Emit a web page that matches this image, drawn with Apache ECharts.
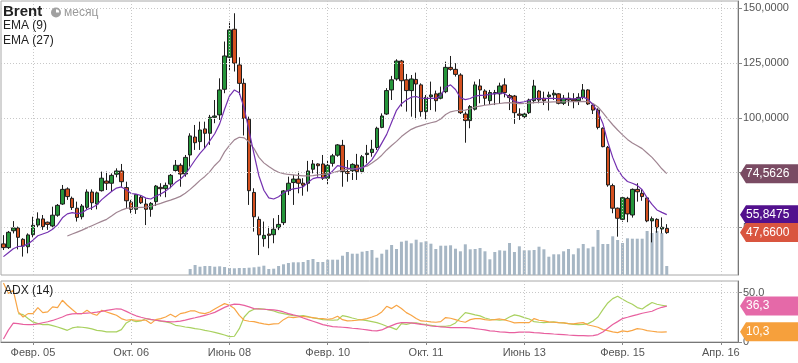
<!DOCTYPE html>
<html><head><meta charset="utf-8">
<script src="https://cdn.jsdelivr.net/npm/echarts@6/dist/echarts.min.js"></script>
<style>html,body{margin:0;padding:0;background:#fff}#c{width:798px;height:363px}</style>
</head><body><div id="c"></div>
<script>
// ---- data (monthly Brent, index 0 = Aug 2004) ----
const opens  = [42.5,40.8,48.5,49.8,44.6,41.2,46.7,51.1,53.9,52.4, 50.7,55.6,60.7,67.6,63.3,58.8,54.9,59.2,66.2,60.7, 66.8,71.2,70.2,74.3,75.8,68.2,61.6,58.3,63.8,60.7, 58.3,61.8,68.3,67.7,69.8,76.0,78.4,74.4,83.1,91.3, 89.2,95.0,93.0,100.3,101.4,113.1,127.7,140.5,124.2,115.8, 99.4,66.0,53.7,44.9,47.0,46.7,49.9,52.2,66.8,70.5, 72.1,70.2,70.2,76.6,79.0,79.0,72.5,79.3,83.0,87.5, 75.5,75.9,78.5,75.5,83.3,84.2,86.5,95.7,101.8,112.8, 117.8,126.0,117.4,112.5,117.6,115.1,102.9,109.7,111.0,109.0, 112.0,123.1,122.2,119.6,101.8,98.8,104.0,114.6,112.3,107.9, 111.0,111.0,115.1,110.2,110.0,101.8,100.6,102.4,107.9,112.3, 109.0,109.7,110.5,111.0,106.7,109.0,108.5,107.9,109.4,112.8, 105.9,103.6,95.3,86.6,69.1,58.8,53.7,63.3,55.7,67.4, 65.6,63.5,53.0,53.7,49.3,49.6];
const highs  = [46.5,48.4,52.9,50.4,45.1,47.3,54.9,56.9,55.7,52.7, 59.5,60.7,69.4,68.3,64.1,61.8,60.7,67.4,67.4,66.4, 75.5,75.5,74.7,77.0,79.0,70.9,62.6,65.3,64.8,63.3, 61.6,69.4,70.2,70.5,74.4,80.8,79.3,83.1,93.0,96.8, 98.3,98.3,101.4,108.2,118.1,134.9,144.0,147.8,127.7,118.0, 100.6,67.9,55.0,52.7,50.4,54.2,55.7,67.1,73.2,74.0, 75.5,72.5,80.4,80.8,79.3,83.1,80.8,83.6,88.1,90.0, 80.8,79.3,83.6,83.1,87.7,90.0,96.0,102.1,113.6,119.2, 126.8,126.5,120.1,119.6,120.7,115.8,110.5,116.6,112.5,114.3, 125.7,128.3,125.0,120.4,102.9,105.9,116.6,117.7,113.1,112.8, 112.8,116.1,118.1,111.0,110.5,104.4,102.4,108.8,117.4,112.8, 112.0,112.0,112.8,111.3,110.5,111.6,111.3,111.3,115.5,113.1, 106.4,104.4,95.7,87.2,70.0,59.1,64.0,64.0,67.8,70.2, 67.4,63.8,55.0,54.2,54.6,51.5];
const lows   = [39.7,40.2,47.3,40.0,36.7,38.2,45.5,49.9,48.9,48.9, 49.6,54.9,60.3,62.6,58.0,52.7,53.7,58.3,58.0,58.3, 66.4,67.1,66.4,72.9,68.3,58.8,56.5,56.2,60.7,51.1, 54.9,59.8,64.1,63.8,67.9,75.5,68.6,73.2,77.8,85.4, 85.4,86.1,87.7,97.6,99.1,111.3,121.6,121.2,110.5,92.0, 60.3,48.1,37.4,41.2,40.5,42.8,48.8,51.1,64.8,60.3, 65.6,64.5,66.4,74.7,73.2,71.7,69.4,77.8,82.3,68.6, 70.9,71.7,71.7,74.7,79.3,82.3,85.4,95.3,101.4,108.2, 117.0,105.2,102.9,100.6,99.4,100.6,99.4,103.6,102.9,108.5, 111.3,121.6,118.9,101.8,88.7,95.3,103.4,106.7,105.9,105.9, 105.9,106.4,109.4,103.6,97.3,99.1,99.9,101.8,106.7,106.7, 105.9,103.4,108.2,106.2,105.9,105.5,104.4,105.9,108.5,105.9, 101.8,94.8,86.6,68.6,56.5,45.8,52.6,52.4,54.5,61.8, 62.2,52.4,43.2,47.6,47.3,47.1];
const closes = [40.8,47.8,49.8,45.5,41.5,46.6,51.0,53.9,50.4,51.4, 55.6,60.1,67.4,64.1,59.1,54.6,59.8,66.2,61.3,65.8, 72.5,70.2,73.8,75.8,70.9,62.2,58.3,65.0,61.3,58.3, 61.0,68.9,67.7,69.2,73.8,78.4,74.4,82.0,91.8,88.7, 94.5,93.0,100.3,100.9,112.8,128.3,140.2,125.0,115.8,99.8, 66.8,54.9,46.6,46.4,46.4,49.2,51.4,66.7,70.2,72.1, 70.2,69.3,75.8,79.0,78.2,72.5,78.4,82.7,87.7,75.5, 74.7,78.8,75.5,82.3,83.9,85.7,95.3,100.9,112.5,117.4, 126.0,117.0,112.5,117.8,115.5,102.9,109.4,110.5,107.9,111.3, 123.1,122.2,119.9,102.4,98.8,105.2,115.1,112.8,109.0,111.6, 111.6,114.6,111.6,109.3,102.4,101.2,101.8,108.2,114.6,108.2, 107.9,110.5,111.3,106.7,109.0,108.2,107.8,109.4,112.8,106.4, 103.6,95.7,86.9,69.4,58.8,54.2,63.6,56.2,67.4,66.3, 64.1,53.0,54.0,49.9,50.1,47.66];
const ema9   = [36.7,38.5,40.3,41.3,41.5,42.5,44.2,46.2,47.0,47.8, 49.2,51.2,54.4,56.2,56.8,56.3,56.7,58.2,59.0,60.3, 62.7,64.6,66.4,68.0,68.5,67.2,65.5,65.2,64.6,63.4, 63.0,64.3,65.3,66.6,68.3,70.5,72.0,74.2,77.5,80.8, 83.8,86.3,89.5,92.8,97.3,104.0,110.0,112.8,111.5,104.5, 94.0,83.5,73.5,67.0,63.5,63.0,64.0,65.8,67.0,67.6, 68.0,68.6,70.6,72.3,72.9,72.6,73.5,75.8,78.2,77.8, 77.1,76.8,76.6,77.2,78.7,81.0,84.5,88.5,92.5,98.0, 103.5,106.5,108.2,109.5,109.8,109.0,108.9,109.0,108.9,110.2, 114.0,115.1,113.0,109.2,108.4,108.9,110.0,110.3,110.4,110.8, 111.1,111.4,111.2,109.4,107.5,107.0,107.4,108.0,108.8,108.9, 108.8,108.9,109.0,108.7,108.8,108.8,108.7,109.0,109.5,108.5, 106.0,102.8,97.5,89.0,82.0,76.5,73.2,71.0,70.2,69.2, 67.2,63.5,60.5,58.0,56.9,55.8475];
const ema27  = [null,null,null,null,null,null,null,null,null,null, null,null,null,46.1,47.0,47.9,48.8,49.8,50.8,51.8, 52.8,53.7,55.2,56.8,57.9,58.7,59.0,59.1,59.2,59.3, 59.7,60.3,61.0,61.8,62.5,63.3,64.2,65.6,67.4,69.4, 71.5,73.3,75.5,78.3,80.5,84.5,87.5,90.0,91.2,90.9, 89.0,86.0,82.0,79.5,77.8,76.3,75.2,74.6,74.2,74.0, 73.8,73.6,73.6,73.7,74.0,74.2,74.5,75.0,75.6,76.2, 76.5,76.7,77.0,77.5,78.0,79.4,81.0,83.0,85.4,87.4, 89.3,91.5,93.2,94.8,95.8,96.5,97.2,97.8,98.3,99.5, 101.6,102.8,103.3,103.5,103.6,104.2,105.0,105.4,105.8,106.1, 106.4,106.6,106.9,107.0,106.8,106.5,106.6,106.8,107.0,107.1, 107.2,107.2,107.3,107.3,107.4,107.4,107.5,107.5,107.6,107.4, 106.6,105.0,102.4,99.6,96.9,94.5,92.3,90.2,88.6,87.3, 86.0,84.0,82.0,79.5,76.8,74.5626];
const volStart = 38;
const volumes = [6,10,8.3,9,9,8.3,8.7,8,7,6.7, 7,7,7.3,7.7,8.3,9.3,6,6.3,9,10.7, 12,12.7,12.7,13,15,16,13,13,15.3,15.3, 15.3,19.3,23,21.3,21.3,23.3,24,25,17.3,21.3, 25.3,30,26,33.3,34.3,31.7,35.3,32.7,33.7,31.3, 26,29.3,29.3,29.7,26.3,23.7,30.7,25.7,26,27, 23.7,15.7,23,24.7,24.3,32,23,28.7,24.7,24.7, 25,28.3,25.7,18.3,20.7,20.7,23.7,26,20.7,26.7, 31,26.7,28.3,45,31,31,38.7,35,32,36.7, 36.3,36.3,36.3,44,42,44,42,9];
const adx    = [3,12,19,18.5,17.8,17.5,17.6,18.3,19.5,20.5, 21.8,23.5,25.3,27.5,28.5,28.7,28.8,29.2,29.6,30.2, 31.0,31.9,32.8,33.6,33.2,31.0,28.5,26.5,25.0,23.8, 22.8,22.0,21.4,20.8,20.4,20.6,21.2,22.2,23.4,24.5, 25.7,27.0,28.3,30.0,32.5,35.0,37.0,38.3,38.0,37.0, 35.5,33.8,33.4,33.1,32.8,32.4,31.7,30.4,28.7,27.4, 26.3,24.3,22.6,21.0,19.3,17.6,16.6,15.6,15.2,14.9, 14.5,13.9,13.5,12.9,12.2,11.5,11.2,12.2,14.5,16.6, 18.6,19.6,19.6,19.3,18.6,17.9,17.2,16.2,15.9,15.2, 14.9,14.5,14.5,14.5,14.5,14.2,13.5,12.9,12.2,11.2, 10.9,10.2,9.9,9.5,9.5,9.9,9.9,9.9,9.5,9.2, 8.8,8.5,8.1,7.8,7.5,7.1,6.8,6.5,6.5,6.1, 6.5,7.5,10.2,13.9,17.6,20.6,23.7,25.0,26.4,27.7, 29.1,30.1,31.1,33.4,35.1,36.3];
const plusDI = [59.7,49,52.3,30.4,25.3,28.7,28.7,34.8,29.7,30.4, 35.5,34.8,42.2,37.2,32.8,28.7,28.7,32.1,28.7,27.0, 32.1,30.4,28.7,27.0,23.7,22.0,22.6,22.0,22.0,22.0, 18.6,22.6,23.7,25.3,28.0,25.3,28.7,29.7,31.4,31.4, 29.4,28.7,30.4,33.4,36.1,38.8,37.2,33.8,27.0,22.0, 21.0,20.6,19.3,18.3,17.6,18.3,18.6,22.6,25.3,24.7, 25.3,26.0,25.3,24.7,24.0,23.7,23.0,23.7,26.0,22.6, 21.3,21.6,22.0,22.6,23.7,25.3,27.0,30.4,36.1,33.8, 37.2,33.8,29.7,27.0,23.7,21.3,21.0,20.3,20.0,20.6, 24.7,24.0,22.6,21.0,20.0,22.6,23.7,23.7,22.6,22.0, 22.6,23.3,22.3,21.0,19.3,19.6,19.6,19.6,23.7,22.0, 21.3,20.3,20.0,19.6,19.3,18.6,18.3,19.0,19.6,17.2, 16.2,14.9,12.5,11.5,10.2,9.5,11.2,10.5,11.8,13.5, 12.9,11.5,10.9,10.2,9.9,10.3];
const minusDI = [null,null,null,28.7,27.7,23.7,20.3,18.6,17.6,17.9, 16.6,15.2,13.5,11.8,14.2,15.2,14.9,14.2,13.2,11.8, 11.2,10.2,10.2,10.2,12.5,19.3,22.0,20.6,21.3,23.7, 22.6,22.0,21.0,20.3,19.3,16.9,16.2,15.2,14.5,13.5, 12.9,11.8,10.9,9.8,8.5,7.1,5.4,5.8,13.5,25.3, 30.7,33.1,33.8,33.4,32.4,31.4,29.7,28.7,27.7,26.7, 26.3,26.7,25.7,24.3,23.7,22.6,22.3,22.0,22.3,26.7, 25.7,24.3,23.0,22.3,21.6,20.6,19.6,17.9,15.9,14.5, 12.5,18.6,17.9,19.0,19.3,18.3,17.6,16.9,16.2,15.9, 15.9,16.6,19.3,24.7,29.7,28.7,27.4,26.4,24.3,23.0, 22.6,22.0,22.6,25.3,27.4,26.4,24.7,23.3,20.6,20.0, 19.6,20.0,20.3,19.6,19.3,18.6,17.9,17.6,17.9,18.6, 21.3,25.3,32.8,39.5,43.9,46.3,43.2,40.5,38.2,34.8, 33.4,36.8,39.9,38.2,37.2,36.2];
const priceTicks = [50, 75, 100, 125, 150];
const adxTicks = [0, 50];
const xTickIdx = [6, 26, 46, 66, 86, 106, 126, 146];
const xTickText = ['Февр. 05', 'Окт. 06', 'Июнь 08', 'Февр. 10', 'Окт. 11', 'Июнь 13', 'Февр. 15', 'Апр. 16'];
const nCats = 150;

// ---- build ----
const cats = []; for (let i = 0; i < nCats; i++) cats.push(String(i));
const candles = opens.map((o, i) => [o, closes[i], lows[i], highs[i]]);
const volData = new Array(volStart).fill(null).concat(volumes);
const fmtPrice = v => v.toFixed(4).replace('.', ',');
const FONT = 'Liberation Sans, Arial, sans-serif';
const gridLine = {color: '#c8c8c8', type: [1, 2], width: 1};
const vLines = xTickIdx.map(i => ({xAxis: String(i)}));

const chart = echarts.init(document.getElementById('c'), null, {renderer: 'canvas'});
const option = {
  animation: false,
  textStyle: {fontFamily: FONT},
  grid: [
    {left: 1, top: 1, width: 737, height: 274, show: true, borderColor: '#a8a8a8', borderWidth: 1},
    {left: 1, top: 281, width: 737, height: 61, show: true, borderColor: '#a8a8a8', borderWidth: 1}
  ],
  xAxis: [
    {type: 'category', gridIndex: 0, data: cats, boundaryGap: true, axisLine: {show: false}, axisTick: {show: false}, axisLabel: {show: false}, splitLine: {show: false}},
    {type: 'category', gridIndex: 1, data: cats, boundaryGap: true,
     axisLine: {show: true, lineStyle: {color: '#777'}},
     axisTick: {show: true, alignWithLabel: true, interval: (i) => xTickIdx.includes(i), length: 3, lineStyle: {color: '#888'}},
     axisLabel: {interval: (i) => xTickIdx.includes(i), formatter: (v) => { const k = xTickIdx.indexOf(Number(v)); return k >= 0 ? xTickText[k] : ''; }, color: '#555', fontSize: 11, margin: 5, fontFamily: FONT},
     splitLine: {show: false}}
  ],
  yAxis: [
    {type: 'value', gridIndex: 0, position: 'right', min: 28.3, max: 153.4,
     axisLine: {show: true, lineStyle: {color: '#777'}},
     axisTick: {show: true, customValues: priceTicks, length: 4, lineStyle: {color: '#888'}},
     axisLabel: {customValues: priceTicks, formatter: fmtPrice, color: '#555', fontSize: 11, margin: 5, fontFamily: FONT},
     splitLine: {show: false}},
    {type: 'value', gridIndex: 0, min: 0, max: 274, show: false, splitLine: {show: false}},
    {type: 'value', gridIndex: 1, position: 'right', min: 0, max: 61.7,
     axisLine: {show: true, lineStyle: {color: '#777'}},
     axisTick: {show: true, customValues: adxTicks, length: 4, lineStyle: {color: '#888'}},
     axisLabel: {customValues: adxTicks, formatter: v => v === 50 ? '50.0' : '0', color: '#555', fontSize: 11, margin: 5, fontFamily: FONT},
     splitLine: {show: false}}
  ],
  series: [
    {type: 'line', xAxisIndex: 0, yAxisIndex: 0, data: [], z: 1, silent: true,
     markLine: {silent: true, symbol: ['none', 'none'], label: {show: false}, lineStyle: gridLine, animation: false,
       data: vLines.concat(priceTicks.map(v => ({yAxis: v})))}},
    {type: 'bar', xAxisIndex: 0, yAxisIndex: 1, data: volData, barWidth: 3, itemStyle: {color: '#a6b6c4'}, z: 2, silent: true},
    {type: 'candlestick', xAxisIndex: 0, yAxisIndex: 0, data: candles, barWidth: 4, z: 3,
     itemStyle: {color: '#25953a', color0: '#d4501f', borderColor: '#1e1e1e', borderColor0: '#1e1e1e', borderWidth: 1}},
    {type: 'line', xAxisIndex: 0, yAxisIndex: 0, data: ema27, symbol: 'none', z: 4, lineStyle: {color: '#a08592', width: 1.2}},
    {type: 'line', xAxisIndex: 0, yAxisIndex: 0, data: ema9, symbol: 'none', z: 4, lineStyle: {color: '#7431b0', width: 1.2}},
    {type: 'line', xAxisIndex: 1, yAxisIndex: 2, data: [], z: 1, silent: true,
     markLine: {silent: true, symbol: ['none', 'none'], label: {show: false}, lineStyle: gridLine, animation: false,
       data: vLines.concat([{yAxis: 50}])}},
    {type: 'line', xAxisIndex: 1, yAxisIndex: 2, data: minusDI, symbol: 'none', z: 3, lineStyle: {color: '#a9d160', width: 1.2}},
    {type: 'line', xAxisIndex: 1, yAxisIndex: 2, data: plusDI, symbol: 'none', z: 3, lineStyle: {color: '#f8a545', width: 1.2}},
    {type: 'line', xAxisIndex: 1, yAxisIndex: 2, data: adx, symbol: 'none', z: 4, lineStyle: {color: '#e8609f', width: 1.2}}
  ]
};
chart.setOption(option);

// ---- value tags on the right ----
const last = a => a[a.length - 1];
const tags = [
  {v: last(ema27), ax: 0, txt: fmtPrice(last(ema27)), c: '#7a4b63'},
  {v: last(ema9), ax: 0, txt: fmtPrice(last(ema9)), c: '#52108d'},
  {v: last(closes), ax: 0, txt: fmtPrice(last(closes)), c: '#d9553f'},
  {v: last(adx), ax: 2, txt: last(adx).toFixed(1).replace('.', ','), c: '#e569a8'},
  {v: last(plusDI), ax: 2, txt: last(plusDI).toFixed(1).replace('.', ','), c: '#f6a03c'}
];
const g = [];
tags.forEach(t => {
  const y = chart.convertToPixel({yAxisIndex: t.ax}, t.v);
  const h = 9.5;
  g.push({type: 'polygon', z: 100, shape: {points: [[740, y], [746, y - h], [798, y - h], [798, y + h], [746, y + h]]}, style: {fill: t.c}});
  g.push({type: 'text', z: 101, x: 746, y: y, style: {text: t.txt, fill: '#fff', font: '12px ' + FONT, verticalAlign: 'middle', align: 'left'}});
});
// header texts
g.push({type: 'text', z: 50, x: 3, y: 4, style: {text: 'Brent', fill: '#222', font: 'bold 15px ' + FONT}});
g.push({type: 'circle', z: 50, shape: {cx: 56, cy: 12.5, r: 5}, style: {fill: '#a0a0a0'}});
g.push({type: 'sector', z: 51, shape: {cx: 56, cy: 12.5, r: 3.2, r0: 0, startAngle: -Math.PI / 2, endAngle: 0}, style: {fill: '#fff'}});
g.push({type: 'text', z: 50, x: 64, y: 7, style: {text: 'месяц', fill: '#999', font: '12px ' + FONT}});
g.push({type: 'text', z: 50, x: 3, y: 20, style: {text: 'EMA (9)', fill: '#222', font: '12px ' + FONT}});
g.push({type: 'text', z: 50, x: 3, y: 35, style: {text: 'EMA (27)', fill: '#222', font: '12px ' + FONT}});
g.push({type: 'text', z: 50, x: 4, y: 285, style: {text: 'ADX (14)', fill: '#222', font: '12px ' + FONT}});
chart.setOption({graphic: g});
</script>
</body></html>
